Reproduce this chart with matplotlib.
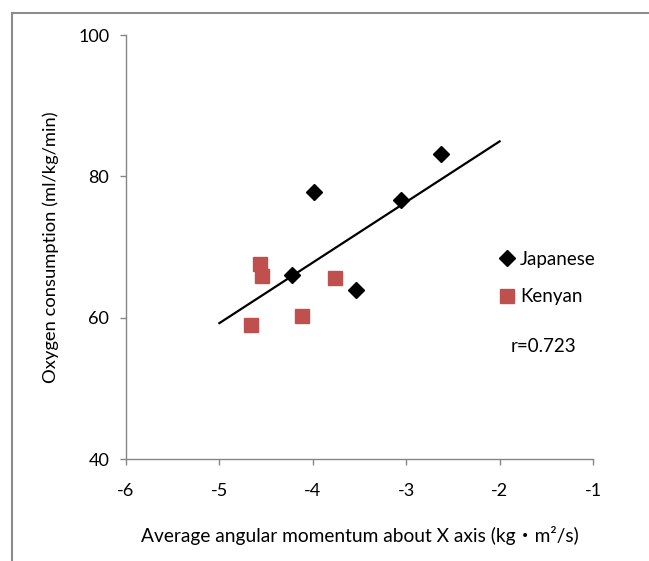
import numpy as np
import matplotlib
matplotlib.use("Agg")
import matplotlib.pyplot as plt
from matplotlib.lines import Line2D

plt.rcParams["font.family"] = ["Lato", "Noto Sans CJK JP", "DejaVu Sans"]
plt.rcParams["axes.unicode_minus"] = False

# ---- data ----
jp_x = [-2.63, -3.99, -3.06, -4.22, -3.54]
jp_y = [83.2, 77.8, 76.6, 66.1, 63.9]
ke_x = [-4.56, -4.54, -3.76, -4.12, -4.66]
ke_y = [67.6, 65.9, 65.6, 60.3, 58.9]
fit_range = [-5.0, -2.0]
r_text = "r=0.723"

GRAY = "#868686"
RED = "#C0504D"

fig = plt.figure(figsize=(6.49, 5.61), dpi=100)
ax = fig.add_axes([126 / 649, 1 - 459 / 561, (593 - 126) / 649, (459 - 35) / 561])

ax.plot(jp_x, jp_y, linestyle="none", marker="D", markersize=8,
        color="black", label="Japanese", zorder=3)
ax.plot(ke_x, ke_y, linestyle="none", marker="s", markersize=9.4,
        color=RED, label="Kenyan", zorder=3)

# linear fit over all points
all_x = np.array(jp_x + ke_x)
all_y = np.array(jp_y + ke_y)
k, b = np.polyfit(all_x, all_y, 1)
fx = np.array(fit_range)
ax.plot(fx, k * fx + b, color="black", linewidth=1.6, zorder=2)

ax.set_xlim(-6, -1)
ax.set_ylim(40, 100)
ax.set_xticks(range(-6, 0))
ax.set_yticks([40, 60, 80, 100])

for s in ["top", "right"]:
    ax.spines[s].set_visible(False)
for s in ["left", "bottom"]:
    ax.spines[s].set_color(GRAY)
    ax.spines[s].set_linewidth(1.0)
ax.tick_params(axis="both", color=GRAY, length=4, width=1.0,
               labelsize=13, direction="out")
ax.tick_params(axis="x", pad=13)
ax.tick_params(axis="y", pad=8)

ax.set_xlabel("Average angular momentum about X axis (kg・m²/s)",
              fontsize=13.8, labelpad=20)
ax.set_ylabel("Oxygen consumption (ml/kg/min)", fontsize=13.2, labelpad=14)

ax.legend(loc="center left", bbox_to_anchor=(0.80, 0.427), frameon=False,
          fontsize=13.5, handlelength=0.8, handletextpad=0.3,
          labelspacing=1.1, borderaxespad=0, borderpad=0)

ax.text(-1.535, 55.9, r_text, fontsize=13.5, ha="center", va="center")

# outer frame (top and left edges visible)
fig.add_artist(Line2D([12 / 649, 12 / 649], [0, 1 - 13 / 561],
                      color="#8c8c8c", linewidth=1.5, transform=fig.transFigure))
fig.add_artist(Line2D([12 / 649, 1], [1 - 13 / 561, 1 - 13 / 561],
                      color="#8c8c8c", linewidth=1.5, transform=fig.transFigure))

fig.savefig("out.png", dpi=100, facecolor="white")
